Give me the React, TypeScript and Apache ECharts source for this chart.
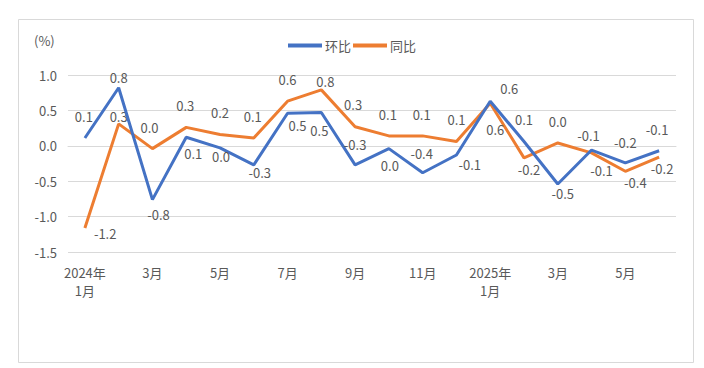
import React, { useEffect, useRef } from "react";
import * as echarts from "echarts";

const categories = [
  "2024年\n1月", "2月", "3月", "4月", "5月", "6月", "7月", "8月", "9月", "10月", "11月", "12月",
  "2025年\n1月", "2月", "3月", "4月", "5月", "6月",
];
const huanbi = [0.11, 0.82, -0.76, 0.12, -0.03, -0.27, 0.46, 0.47, -0.27, -0.04, -0.38, -0.13, 0.63, 0.06, -0.54, -0.06, -0.24, -0.07];
const tongbi = [-1.16, 0.31, -0.04, 0.26, 0.16, 0.11, 0.63, 0.79, 0.27, 0.14, 0.14, 0.06, 0.6, -0.17, 0.04, -0.1, -0.36, -0.16];
const yTicks = { min: -1.5, max: 1.0, interval: 0.5 };

// label placement (style only)
const huanbiPos = ["top", "top", "bottom", "bottom", "bottom", "bottom", "bottom", "bottom", "top", "bottom", "top", "right", "top", "top", "bottom", "top", "top", "top"];
const tongbiPos = ["right", "top", "top", "top", "top", "top", "top", "top", "top", "top", "top", "top", "bottom", "bottom", "top", "bottom", "bottom", "bottom"];
const huanbiOff: number[][] = [[-1, -11], [0, 0], [6, 4], [7, 6], [1, -2], [6, -3], [10, 2], [-2, 7], [0, -10], [1, 6], [-1, -9], [-2, 9], [19, -2], [0, -12], [5, -1], [-3, -4], [0, -10], [-2, -11]];
const tongbiOff: number[][] = [[5, 6], [0, 3], [-3, -11], [-1, -11], [0, -11], [-1, -11], [0, -11], [4, 2], [-2, -12], [-1, -11], [-1, -11], [0, -12], [5, 16], [5, 1], [0, -11], [10, 7], [10, 1], [3, 1]];

const FONT = "'Noto Sans CJK SC', 'Microsoft YaHei', sans-serif";
const TXT = "#595959";

const fmt1 = (v: number) => {
  const s = v.toFixed(1);
  return s === "-0.0" ? "0.0" : s;
};

export default function App() {
  const ref = useRef<HTMLDivElement>(null);
  useEffect(() => {
    if (!ref.current) return;
    const chart = echarts.init(ref.current, undefined, { renderer: "svg" });
    const mk = (vals: number[], pos: string[], off: number[][]) =>
      vals.map((v, i) => ({
        value: v,
        label: { position: pos[i], offset: off[i] },
      }));
    const lbl = {
      show: true,
      color: TXT,
      fontSize: 13,
      fontFamily: FONT,
      distance: 4,
      formatter: (p: any) => fmt1(p.value as number),
    };
    chart.setOption({
      animation: false,
      textStyle: { fontFamily: FONT },
      graphic: [
        {
          type: "rect",
          shape: { x: 18.5, y: 19.5, width: 675, height: 343 },
          style: { fill: "none", stroke: "#d9d9d9", lineWidth: 1 },
          silent: true,
        },
        {
          type: "text",
          left: 34,
          top: 34,
          style: { text: "(%)", fill: TXT, fontSize: 13, fontFamily: FONT },
        },
      ],
      legend: {
        top: 34,
        left: "center",
        itemWidth: 34,
        itemHeight: 4,
        itemGap: 2,
        icon: "rect",
        textStyle: { color: TXT, fontSize: 13, fontFamily: FONT, padding: [0, 0, 0, -2] },
        data: ["环比", "同比"],
      },
      grid: { left: 68, right: 28, top: 75, bottom: 116 },
      xAxis: {
        type: "category",
        data: categories,
        boundaryGap: true,
        axisLine: { show: true, lineStyle: { color: "#d9d9d9", width: 1 } },
        axisTick: { show: false },
        axisLabel: { interval: 1, color: TXT, fontSize: 13, fontFamily: FONT, margin: 11, lineHeight: 18 },
      },
      yAxis: {
        type: "value",
        min: yTicks.min,
        max: yTicks.max,
        interval: yTicks.interval,
        axisLine: { show: false },
        axisTick: { show: false },
        splitLine: { lineStyle: { color: "#d9d9d9", width: 1 } },
        axisLabel: {
          color: TXT,
          fontSize: 13,
          fontFamily: FONT,
          margin: 11,
          formatter: (v: number) => v.toFixed(1),
        },
      },
      series: [
        {
          name: "环比",
          type: "line",
          data: mk(huanbi, huanbiPos, huanbiOff),
          symbol: "circle",
          symbolSize: 0,
          showSymbol: true,
          lineStyle: { color: "#4472C4", width: 3 },
          itemStyle: { color: "#4472C4" },
          label: lbl,
          z: 3,
        },
        {
          name: "同比",
          type: "line",
          data: mk(tongbi, tongbiPos, tongbiOff),
          symbol: "circle",
          symbolSize: 0,
          showSymbol: true,
          lineStyle: { color: "#ED7D31", width: 3 },
          itemStyle: { color: "#ED7D31" },
          label: lbl,
          z: 2,
        },
      ],
    });
    return () => chart.dispose();
  }, []);
  return <div ref={ref} style={{ width: 704, height: 368, position: "absolute", left: 0, top: 0 }} />;
}
